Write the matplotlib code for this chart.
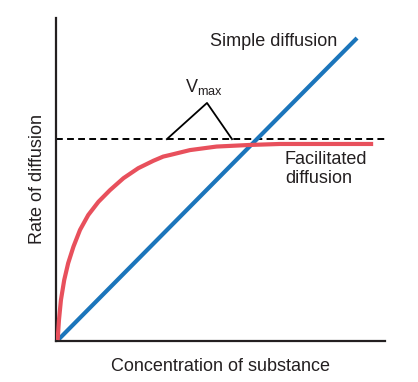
import matplotlib
matplotlib.use("Agg")
import matplotlib.pyplot as plt

plt.rcParams['font.family'] = ['Liberation Sans', 'DejaVu Sans']
plt.rcParams['mathtext.default'] = 'regular'

# simple diffusion: straight line
simple_x = [0.06, 9.15]
simple_y = [0.03, 9.38]

# facilitated diffusion: saturating curve
facil_x = [0.05, 0.09, 0.15, 0.25, 0.37, 0.53, 0.73, 0.98, 1.29, 1.64, 2.05, 2.50,
           2.96, 3.26, 3.47, 4.07, 4.88, 5.90, 6.81, 9.64]
facil_y = [0.03, 0.65, 1.27, 1.89, 2.41, 2.92, 3.44, 3.90, 4.31, 4.67, 5.04, 5.35,
           5.58, 5.71, 5.76, 5.91, 6.02, 6.07, 6.10, 6.10]

vmax = 6.25
caret_x = [3.37, 4.59, 5.35]
caret_y = [6.25, 7.37, 6.25]

txt = '#231f20'

fig = plt.figure(figsize=(4.18, 3.82), dpi=100)
ax = fig.add_axes([56/418, 1-341/382, 329/418, 323/382])
ax.set_xlim(0, 10)
ax.set_ylim(0, 10)

ax.plot(facil_x, facil_y, color='#e8505c', lw=3, solid_capstyle='butt',
        solid_joinstyle='round', zorder=3)
ax.plot(simple_x, simple_y, color='#1b75bb', lw=3, solid_capstyle='butt', zorder=2)
ax.plot([0, 10], [vmax, vmax], color='black', lw=1.4, ls=(0, (3.5, 2.2)), zorder=1)
ax.plot(caret_x, caret_y, color='black', lw=1.3)

ax.text(3.93, 7.55, 'V$_{max}$', fontsize=13, color=txt, ha='left', va='bottom')
ax.text(4.68, 9.26, 'Simple diffusion', fontsize=13, color=txt, ha='left', va='center')
ax.text(6.96, 5.33, 'Facilitated\ndiffusion', fontsize=13, color=txt, ha='left',
        va='center', linespacing=1.15)

for s in ['top', 'right']:
    ax.spines[s].set_visible(False)
for s in ['left', 'bottom']:
    ax.spines[s].set_linewidth(1.6)
    ax.spines[s].set_color('#231f20')
ax.set_xticks([])
ax.set_yticks([])
ax.set_xlabel('Concentration of substance', fontsize=13, color=txt, labelpad=12)
ax.set_ylabel('Rate of diffusion', fontsize=13, color=txt, labelpad=7)

fig.savefig('out.png', dpi=100)
